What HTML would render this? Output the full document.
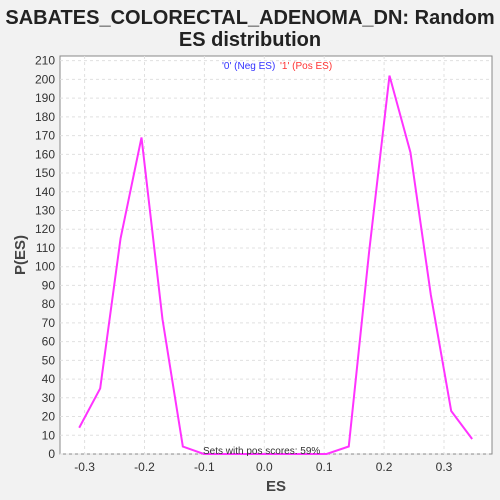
<!DOCTYPE html>
<html><head><meta charset="utf-8"><style>
body{margin:0;background:#f2f2f2;}
svg{display:block;font-family:"Liberation Sans",sans-serif;}
</style></head><body>
<svg id="chart" width="500" height="500">
<rect width="500" height="500" fill="#f2f2f2"/>
<text x="250" y="24" font-size="20" font-weight="bold" text-anchor="middle" fill="#222">SABATES_COLORECTAL_ADENOMA_DN: Random</text>
<text x="250" y="46" font-size="20" font-weight="bold" text-anchor="middle" fill="#222">ES distribution</text>
<rect x="60" y="56" width="432" height="398" fill="#fff" stroke="#888"/>
<g id="grid"></g><g id="yticks"></g><g id="xticks"></g>
<polyline id="line" fill="none" stroke="#ff33ff" stroke-width="2"/>
<text x="222" y="69" font-size="10" fill="#3333ff">'0' (Neg ES)</text>
<text x="280" y="69" font-size="10" fill="#ff3333">'1' (Pos ES)</text>
<text x="203" y="454" font-size="10" fill="#333">Sets with pos scores: 59%</text>
<text x="276" y="491" font-size="15" font-weight="bold" text-anchor="middle" fill="#444">ES</text>
<text transform="translate(25,255) rotate(-90)" font-size="15" font-weight="bold" text-anchor="middle" fill="#444">P(ES)</text>
</svg>
<script>
const esValues=[-0.309,-0.274,-0.240,-0.205,-0.170,-0.136,-0.101,-0.067,-0.032,0.002,0.036,0.070,0.104,0.141,0.175,0.209,0.244,0.278,0.312,0.347];
const pValues=[14,35,115,169,72,4,0,0,0,0,0,0,0,4,108,202,161,85,23,8];
const yTickLabels=[0,10,20,30,40,50,60,70,80,90,100,110,120,130,140,150,160,170,180,190,200,210];
const xTickLabels=[-0.3,-0.2,-0.1,0.0,0.1,0.2,0.3];
const NS="http://www.w3.org/2000/svg";
const sx=v=>264.3+v*599;
const sy=v=>454-v*1.873;
const grid=document.getElementById('grid'),yt=document.getElementById('yticks'),xt=document.getElementById('xticks');
yTickLabels.forEach(v=>{
 const l=document.createElementNS(NS,'line');
 l.setAttribute('x1',60);l.setAttribute('x2',492);l.setAttribute('y1',sy(v));l.setAttribute('y2',sy(v));
 l.setAttribute('stroke','#e0e0e0');l.setAttribute('stroke-dasharray','3,3');
 
 
 grid.appendChild(l);
 const t=document.createElementNS(NS,'text');
 t.setAttribute('x',55);t.setAttribute('y',sy(v)+4);t.setAttribute('font-size','12');t.setAttribute('text-anchor','end');t.setAttribute('fill','#333');
 t.textContent=v;
 
 
 yt.appendChild(t);
});
xTickLabels.forEach(v=>{
 const l=document.createElementNS(NS,'line');
 l.setAttribute('x1',sx(v));l.setAttribute('x2',sx(v));l.setAttribute('y1',56);l.setAttribute('y2',454);
 l.setAttribute('stroke','#e0e0e0');l.setAttribute('stroke-dasharray','3,3');
 
 
 grid.appendChild(l);
 const t=document.createElementNS(NS,'text');
 t.setAttribute('x',sx(v));t.setAttribute('y',471);t.setAttribute('font-size','12');t.setAttribute('text-anchor','middle');t.setAttribute('fill','#333');
 t.textContent=v.toFixed(1);
 
 
 xt.appendChild(t);
});
document.getElementById('line').setAttribute('points',esValues.map((e,i)=>sx(e)+','+sy(pValues[i])).join(' '));
</script>
</body></html>
